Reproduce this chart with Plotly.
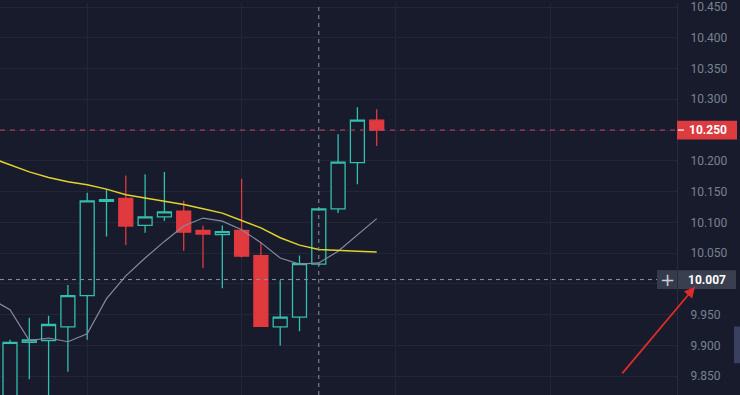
import plotly.graph_objects as go

# ---- data ----
candle_idx = list(range(20))
opens  = [9.800, 9.905, 9.908, 9.930, 9.981, 10.134, 10.139, 10.095, 10.109, 10.118,
          10.087, 10.080, 10.087, 10.046, 9.930, 9.946, 10.032, 10.122, 10.197, 10.266]
highs  = [9.909, 9.945, 9.948, 9.998, 10.148, 10.154, 10.176, 10.178, 10.182, 10.135,
          10.095, 10.095, 10.171, 10.067, 10.006, 10.046, 10.124, 10.243, 10.287, 10.284]
lows   = [9.790, 9.845, 9.790, 9.857, 9.909, 10.077, 10.063, 10.083, 10.102, 10.054,
          10.026, 9.993, 10.043, 9.930, 9.900, 9.923, 10.030, 10.115, 10.162, 10.224]
closes = [9.905, 9.909, 9.934, 9.981, 10.135, 10.137, 10.094, 10.109, 10.117, 10.084,
          10.081, 10.085, 10.045, 9.931, 9.946, 10.033, 10.122, 10.198, 10.266, 10.250]

ma_idx = list(range(-1, 20))
ma_fast = [9.976, 9.958, 9.908, 9.912, 9.906, 9.919, 9.976, 10.013, 10.042, 10.069, 10.094,
           10.107, 10.102, 10.088, 10.067, 10.042, 10.032, 10.034, 10.053, 10.079, 10.106]
ma_slow = [10.205, 10.194, 10.182, 10.173, 10.166, 10.161, 10.154, 10.145, 10.140, 10.135,
           10.129, 10.122, 10.115, 10.103, 10.091, 10.075, 10.063, 10.056, 10.054, 10.053, 10.052]

# 10.000 and 10.250 labels are hidden behind the price boxes in the reference
tick_vals = [9.85, 9.90, 9.95, 10.00, 10.05, 10.10, 10.15, 10.20, 10.25, 10.30, 10.35, 10.40, 10.45]
tick_text = ["9.850", "9.900", "9.950", "", "10.050", "10.100", "10.150",
             "10.200", "", "10.300", "10.350", "10.400", "10.450"]

last_price = 10.250
last_label = "10.250"
cross_price = 10.007
cross_label = "10.007"
cross_idx = 16

# ---- styling ----
BG = "#171b2b"
GRID = "#212638"
TEAL = "#33bfae"
RED = "#e0393e"
Y0, Y1 = 9.8194, 10.4565
X0, X1 = -0.518, 34.56
W, H = 740, 395
PLOT_W = 677


def yp(v):
    return (v - Y0) / (Y1 - Y0)


def xp(px):
    return px / PLOT_W


fig = go.Figure()

fig.add_trace(go.Candlestick(
    x=candle_idx, open=opens, high=highs, low=lows, close=closes,
    increasing=dict(line=dict(color=TEAL, width=1.3), fillcolor=BG),
    decreasing=dict(line=dict(color=RED, width=1.3), fillcolor=RED),
    whiskerwidth=0, hoverinfo="skip", showlegend=False,
))

fig.add_trace(go.Scatter(x=ma_idx, y=ma_fast, mode="lines",
                         line=dict(color="#878aa2", width=1.2), showlegend=False, hoverinfo="skip"))
fig.add_trace(go.Scatter(x=ma_idx, y=ma_slow, mode="lines",
                         line=dict(color="#e3d22c", width=1.5), showlegend=False, hoverinfo="skip"))

shapes = [
    # last price line
    dict(type="line", xref="paper", yref="y", x0=0, x1=1, y0=last_price, y1=last_price,
         line=dict(color="#c9466a", width=1, dash="5px,5px"), layer="above"),
    # crosshair
    dict(type="line", xref="paper", yref="y", x0=0, x1=xp(657), y0=cross_price, y1=cross_price,
         line=dict(color="#8d92a0", width=1, dash="4px,4px"), layer="above"),
    dict(type="line", xref="x", yref="paper", x0=cross_idx, x1=cross_idx, y0=0, y1=1,
         line=dict(color="#8d92a0", width=1, dash="4px,4px"), layer="above"),
    # last price box
    dict(type="rect", xref="paper", yref="paper", x0=xp(677), x1=xp(737),
         y0=yp(last_price) - 9.5 / H, y1=yp(last_price) + 9.5 / H,
         fillcolor="#dc3b3f", line=dict(width=0), layer="above"),
    dict(type="line", xref="paper", yref="paper", x0=xp(678), x1=xp(684),
         y0=yp(last_price), y1=yp(last_price), line=dict(color="white", width=1.2), layer="above"),
    # crosshair boxes
    dict(type="rect", xref="paper", yref="paper", x0=xp(657), x1=xp(677),
         y0=yp(cross_price) - 9.5 / H, y1=yp(cross_price) + 9.5 / H,
         fillcolor="#363b4b", line=dict(width=0), layer="above"),
    dict(type="rect", xref="paper", yref="paper", x0=xp(678), x1=xp(736),
         y0=yp(cross_price) - 9.5 / H, y1=yp(cross_price) + 9.5 / H,
         fillcolor="#3a3f50", line=dict(width=0), layer="above"),
    # right edge tab
    dict(type="rect", xref="paper", yref="paper", x0=xp(734), x1=xp(741),
         y0=1 - 363 / H, y1=1 - 326 / H, fillcolor="#3a4160", line=dict(width=0), layer="above"),
]

annotations = [
    dict(xref="paper", yref="paper", x=xp(708), y=yp(last_price), text=last_label,
         showarrow=False, font=dict(family="Roboto", size=12, color="white", weight="bold"),
         xanchor="center", yanchor="middle"),
    dict(xref="paper", yref="paper", x=xp(707), y=yp(cross_price), text=cross_label,
         showarrow=False, font=dict(family="Roboto", size=12, color="white", weight="bold"),
         xanchor="center", yanchor="middle"),
    dict(xref="paper", yref="paper", x=xp(667), y=yp(cross_price), text="+",
         showarrow=False, font=dict(family="DejaVu Sans", size=18, color="#c9ccd4"),
         xanchor="center", yanchor="middle"),
    # red arrow
    dict(xref="paper", yref="paper", x=xp(695), y=1 - 286 / H, text="", showarrow=True,
         ax=-74, ay=88, arrowhead=2, arrowsize=1.2, arrowwidth=1.8, arrowcolor="#e02b2b"),
]

fig.update_layout(
    width=W, height=H,
    margin=dict(l=0, r=W - PLOT_W, t=0, b=0),
    paper_bgcolor=BG, plot_bgcolor=BG,
    boxgap=0.275, boxgroupgap=0,
    shapes=shapes, annotations=annotations,
    showlegend=False,
    xaxis=dict(range=[X0, X1], tickvals=[4, 12, 20, 28], showticklabels=False,
               showgrid=True, gridcolor=GRID, gridwidth=1, zeroline=False,
               rangeslider=dict(visible=False), fixedrange=True),
    yaxis=dict(range=[Y0, Y1], side="right", tickvals=tick_vals, ticktext=tick_text,
               showgrid=True, gridcolor=GRID, gridwidth=1, zeroline=False,
               showline=True, linecolor="#262b3d", linewidth=1,
               ticks="", ticklabelstandoff=10, ticklabeloverflow="allow",
               tickfont=dict(family="Roboto", size=12, color="#7a8194")),
)

fig.write_html(
    "out.html",
    config={"displayModeBar": False},
    post_script="document.body.style.margin='0';document.body.style.overflow='hidden';"
                "document.body.style.background='" + BG + "';",
)
